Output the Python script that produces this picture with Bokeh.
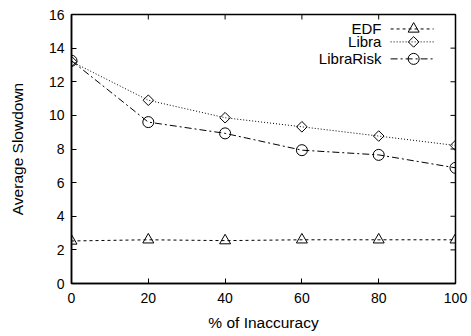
import math
from bokeh.plotting import figure
from bokeh.models import FixedTicker, Range1d
from bokeh.core.properties import value
from bokeh.embed import file_html
from bokeh.resources import INLINE

inaccuracy = [0, 20, 40, 60, 80, 100]
edf = [2.53, 2.6, 2.55, 2.6, 2.6, 2.6]
libra = [13.2, 10.9, 9.86, 9.32, 8.77, 8.21]
librarisk = [13.25, 9.6, 8.93, 7.93, 7.65, 6.88]
series_names = ["EDF", "Libra", "LibraRisk"]
x_ticks = [0, 20, 40, 60, 80, 100]
y_ticks = [0, 2, 4, 6, 8, 10, 12, 14, 16]

FONT = "Liberation Sans"
W, H = 471, 336
BL, BR, BT, BB = 71, 16, 14, 53
X0, X1, Y0, Y1 = 0, 100, 0, 16

p = figure(width=W, height=H, output_backend="svg", toolbar_location=None,
           x_range=Range1d(X0, X1), y_range=Range1d(Y0, Y1),
           min_border_left=BL, min_border_right=BR, min_border_top=BT, min_border_bottom=BB,
           x_axis_label="% of Inaccuracy", y_axis_label="Average Slowdown")
p.grid.visible = False
p.outline_line_color = "black"
p.outline_line_width = 1.5
p.background_fill_color = "white"
p.border_fill_color = "white"

for ax in (p.xaxis[0], p.yaxis[0]):
    ax.major_tick_in = 5
    ax.major_tick_out = 0
    ax.minor_tick_line_color = None
    ax.axis_line_width = 1.5
    ax.major_tick_line_width = 1
    ax.major_label_text_font = FONT
    ax.major_label_text_font_size = "14px"
    ax.major_label_text_color = "black"
    ax.axis_label_text_font = FONT
    ax.axis_label_text_font_size = "15.5px"
    ax.axis_label_text_font_style = "normal"
    ax.axis_label_text_color = "black"
p.xaxis[0].ticker = FixedTicker(ticks=x_ticks)
p.yaxis[0].ticker = FixedTicker(ticks=y_ticks)
p.xaxis[0].major_label_standoff = 9
p.yaxis[0].major_label_standoff = 7
p.xaxis[0].axis_label_standoff = 8
p.yaxis[0].axis_label_standoff = 20

# mirrored inward ticks on top and right edges (5 px long)
tick_dx = 5 * (X1 - X0) / (W - BL - BR)
tick_dy = 5 * (Y1 - Y0) / (H - BT - BB)
p.segment(x0=x_ticks, y0=[Y1] * len(x_ticks), x1=x_ticks, y1=[Y1 - tick_dy] * len(x_ticks),
          line_color="black", line_width=1)
p.segment(x0=[X1] * len(y_ticks), y0=y_ticks, x1=[X1 - tick_dx] * len(y_ticks), y1=y_ticks,
          line_color="black", line_width=1)

styles = [
    dict(ys=edf, dash="3 3", marker="triangle", size=11, angle=0),
    dict(ys=libra, dash="1 2", marker="square", size=7.5, angle=math.pi / 4),
    dict(ys=librarisk, dash="7 3 2 3", marker="circle", size=11, angle=0),
]
for s in styles:
    p.line(inaccuracy, s["ys"], line_color="black", line_width=1, line_dash=s["dash"])
    p.scatter(inaccuracy, s["ys"], marker=s["marker"], size=s["size"], angle=s["angle"],
              fill_color=None, line_color="black", line_width=1)

# legend (text on the left, sample on the right), placed in the upper-right corner
leg_text_x = 80.7
leg_x0, leg_x1, leg_xm = 83.1, 94.3, 89.1
leg_y = [15.14, 14.37, 13.36]
for name, s, yy in zip(series_names, styles, leg_y):
    p.text([leg_text_x], [yy], text=[name], text_align="right", text_baseline="middle",
           text_font=value(FONT), text_font_size="15px", text_color="black")
    p.line([leg_x0, leg_x1], [yy, yy], line_color="black", line_width=1, line_dash=s["dash"])
    p.scatter([leg_xm], [yy], marker=s["marker"], size=s["size"], angle=s["angle"],
              fill_color=None, line_color="black", line_width=1)

open("out.html", "w").write(file_html(p, INLINE))
